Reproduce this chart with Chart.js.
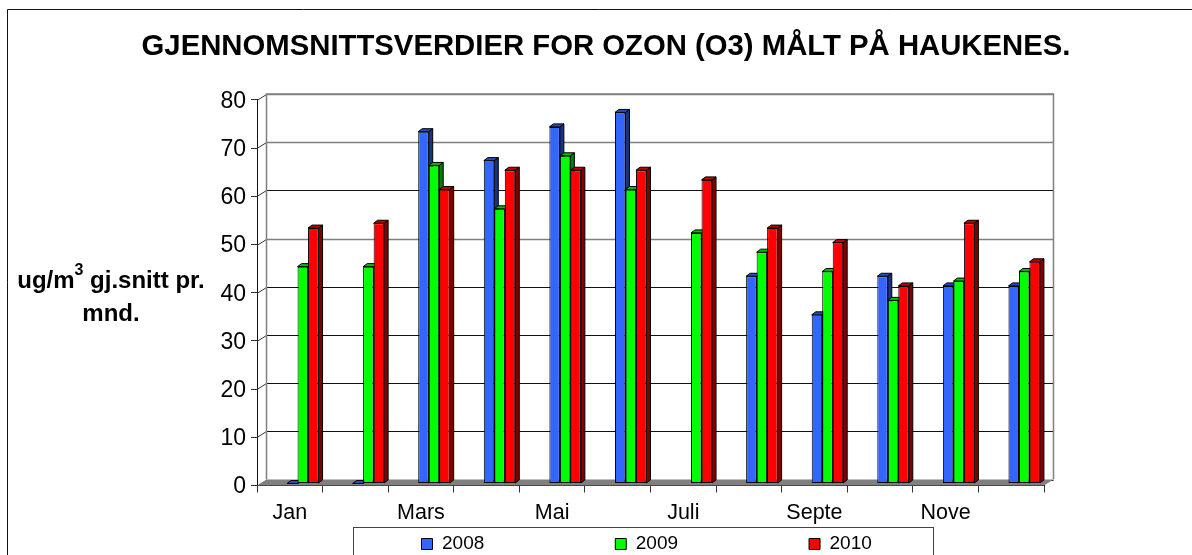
<!DOCTYPE html>
<html>
<head>
<meta charset="utf-8">
<style>
    html, body { margin: 0; padding: 0; background: #fff; overflow: hidden; }
    canvas { display: block; }
</style>
<script src="https://cdn.jsdelivr.net/npm/chart.js@4"></script>
</head>
<body>
<canvas id="ozonChart" width="1192" height="555"></canvas>
<script>
const maaneder = ['Jan', 'Feb', 'Mars', 'Apr', 'Mai', 'Juni', 'Juli', 'Aug', 'Septe', 'Okt', 'Nove', 'Des'];
const verdier2008 = [0, 0, 73, 67, 74, 77, null, 43, 35, 43, 41, 41];
const verdier2009 = [45, 45, 66, 57, 68, 61, 52, 48, 44, 38, 42, 44];
const verdier2010 = [53, 54, 61, 65, 65, 65, 63, 53, 50, 41, 54, 46];
const fargerFront = ['#3366ff', '#00ff00', '#ff0000'];
const fargerTopp = ['#264cbf', '#00bf00', '#bf0000'];
const fargerSide = ['#1a3380', '#008000', '#800000'];

const FONT = '"Liberation Sans", Arial, sans-serif';

// forskyvning av bakveggen og av selve søylene (3D-utseendet)
const VEGG_DX = 9.5, VEGG_DY = -6;
const SOYLE_DX = 13, SOYLE_DY = -2;
const DYBDE_X = 4, DYBDE_Y = -3;

function fyll(ctx, punkter, farge) {
    ctx.beginPath();
    punkter.forEach((p, i) => i ? ctx.lineTo(p[0], p[1]) : ctx.moveTo(p[0], p[1]));
    ctx.closePath();
    ctx.fillStyle = farge;
    ctx.fill();
    ctx.strokeStyle = '#000';
    ctx.lineWidth = 1;
    ctx.stroke();
}

const ramme = {
    id: 'ramme',
    afterLayout(chart) {
        // tittel og legend plasseres der de står i originalen
        chart.titleBlock.left = 20;
        chart.titleBlock.right = 1192;
        const legend = chart.legend;
        legend.left = 421.5 - legend.options.labels.padding;
        legend.right = 1192;
        legend.top = 534.5 - legend.options.labels.padding;
        legend.bottom = 555;
        // tallene på y-aksen står litt lavere enn Chart.js plasserer dem
        const y = chart.scales.y;
        const tegnTall = y.drawLabels;
        y.drawLabels = function (area) {
            chart.ctx.save();
            chart.ctx.translate(0, 1.5);
            tegnTall.call(this, area);
            chart.ctx.restore();
        };
    },
    beforeDraw(chart) {
        const ctx = chart.ctx;
        ctx.save();
        ctx.strokeStyle = '#111';
        ctx.lineWidth = 1;
        ctx.beginPath();
        ctx.moveTo(7.5, 555);
        ctx.lineTo(7.5, 9.5);
        ctx.lineTo(1192, 9.5);
        ctx.stroke();
        // legend-boksen
        ctx.strokeStyle = '#444';
        ctx.strokeRect(353.5, 527.5, 580, 40);
        ctx.restore();
    },
    beforeDatasetsDraw(chart) {
        const ctx = chart.ctx;
        const { left, right } = chart.chartArea;
        const y = chart.scales.y;
        ctx.save();
        y.ticks.forEach(t => {
            const py = Math.round(y.getPixelForValue(t.value)) + 0.5;
            // noen linjer er grå i originalen
            const graa = t.value === 80 || t.value === 70 || t.value === 50;
            ctx.strokeStyle = graa ? '#808080' : '#111';
            ctx.lineWidth = graa ? 1.5 : 1;
            ctx.beginPath();
            ctx.moveTo(left + VEGG_DX, py + VEGG_DY);
            ctx.lineTo(right + VEGG_DX, py + VEGG_DY);
            ctx.stroke();
            ctx.strokeStyle = '#333';
            ctx.lineWidth = 1;
            ctx.beginPath();
            ctx.moveTo(left, py);
            ctx.lineTo(left + VEGG_DX, py + VEGG_DY);
            ctx.stroke();
        });
        const topp = y.getPixelForValue(80), bunn = y.getPixelForValue(0);
        ctx.strokeStyle = '#808080';
        ctx.lineWidth = 1.5;
        ctx.beginPath();
        ctx.moveTo(left + VEGG_DX, bunn + VEGG_DY);
        ctx.lineTo(left + VEGG_DX, topp + VEGG_DY);
        ctx.lineTo(right + VEGG_DX, topp + VEGG_DY);
        ctx.lineTo(right + VEGG_DX, bunn + VEGG_DY);
        ctx.stroke();
        // gulvet
        ctx.fillStyle = '#808080';
        ctx.beginPath();
        ctx.moveTo(left, bunn);
        ctx.lineTo(left + VEGG_DX, bunn + VEGG_DY);
        ctx.lineTo(right + VEGG_DX, bunn + VEGG_DY);
        ctx.lineTo(right, bunn);
        ctx.closePath();
        ctx.fill();
        ctx.restore();
    },
    // søylene tegnes selv i afterDatasetsDraw, i riktig rekkefølge
    beforeDatasetDraw() {
        return false;
    },
    afterDatasetsDraw(chart) {
        const ctx = chart.ctx;
        ctx.save();
        ctx.translate(SOYLE_DX, SOYLE_DY);
        chart.data.datasets.forEach((ds, d) => {
            chart.getDatasetMeta(d).data.forEach((el, i) => {
                if (ds.data[i] === null) return;
                const h = el.width / 2;
                const v = el.x - h, r = el.x + h;
                fyll(ctx, [[r, el.y], [r + DYBDE_X, el.y + DYBDE_Y], [r + DYBDE_X, el.base + DYBDE_Y], [r, el.base]], fargerSide[d]);
                fyll(ctx, [[v, el.y], [v + DYBDE_X, el.y + DYBDE_Y], [r + DYBDE_X, el.y + DYBDE_Y], [r, el.y]], fargerTopp[d]);
                el.draw(ctx);
            });
        });
        ctx.restore();

        // y-aksens tittel ligger vannrett, med hevet 3-tall
        ctx.save();
        ctx.fillStyle = '#000';
        ctx.textBaseline = 'alphabetic';
        ctx.textAlign = 'left';
        ctx.font = 'bold 24px ' + FONT;
        const del1 = 'ug/m', del2 = ' gj.snitt pr.';
        const b1 = ctx.measureText(del1).width, b2 = ctx.measureText(del2).width;
        ctx.font = 'bold 16px ' + FONT;
        const b3 = ctx.measureText('3').width;
        const start = 111 - (b1 + b2 + b3) / 2;
        ctx.font = 'bold 24px ' + FONT;
        ctx.fillText(del1, start, 288);
        ctx.fillText(del2, start + b1 + b3, 288);
        ctx.textAlign = 'center';
        ctx.fillText('mnd.', 111, 320.5);
        ctx.textAlign = 'left';
        ctx.font = 'bold 16px ' + FONT;
        ctx.fillText('3', start + b1, 275);
        ctx.restore();
    }
};

function lagDatasett(navn, data, i) {
    return {
        label: navn,
        data: data,
        backgroundColor: fargerFront[i],
        borderColor: '#000',
        borderWidth: 1,
        borderSkipped: false,
        categoryPercentage: 0.48,
        barPercentage: 1
    };
}

new Chart(document.getElementById('ozonChart').getContext('2d'), {
    type: 'bar',
    data: {
        labels: maaneder,
        datasets: [
            lagDatasett('2008', verdier2008, 0),
            lagDatasett('2009', verdier2009, 1),
            lagDatasett('2010', verdier2010, 2)
        ]
    },
    plugins: [ramme],
    options: {
        responsive: false,
        animation: false,
        layout: { padding: { left: 0, right: 148, top: 0, bottom: 28.5 } },
        scales: {
            x: {
                afterFit: s => { s.height = 40; },
                grid: { drawOnChartArea: false, tickLength: 7, tickColor: '#333' },
                border: { color: '#111' },
                ticks: {
                    autoSkip: false,
                    maxRotation: 0,
                    padding: 8,
                    color: '#000',
                    font: { family: FONT, size: 21.5 },
                    callback(v, i) { return i % 2 ? '' : this.getLabelForValue(v); }
                }
            },
            y: {
                min: 0,
                max: 80,
                afterFit: s => { s.width = 257; },
                grid: { drawOnChartArea: false, tickLength: 6, tickColor: '#333' },
                border: { color: '#111' },
                ticks: { stepSize: 10, padding: 5, color: '#000', font: { family: FONT, size: 23 } }
            }
        },
        plugins: {
            tooltip: { enabled: false },
            title: {
                display: true,
                text: 'GJENNOMSNITTSVERDIER FOR OZON (O3) MÅLT PÅ HAUKENES.',
                color: '#000',
                font: { family: FONT, size: 29.3, weight: 'bold' },
                padding: { top: 29, bottom: 35.8 }
            },
            legend: {
                position: 'bottom',
                align: 'start',
                maxHeight: 1,
                labels: {
                    boxWidth: 11,
                    boxHeight: 11,
                    padding: 131,
                    color: '#000',
                    font: { family: FONT, size: 19 }
                }
            }
        }
    }
});
</script>
</body>
</html>
